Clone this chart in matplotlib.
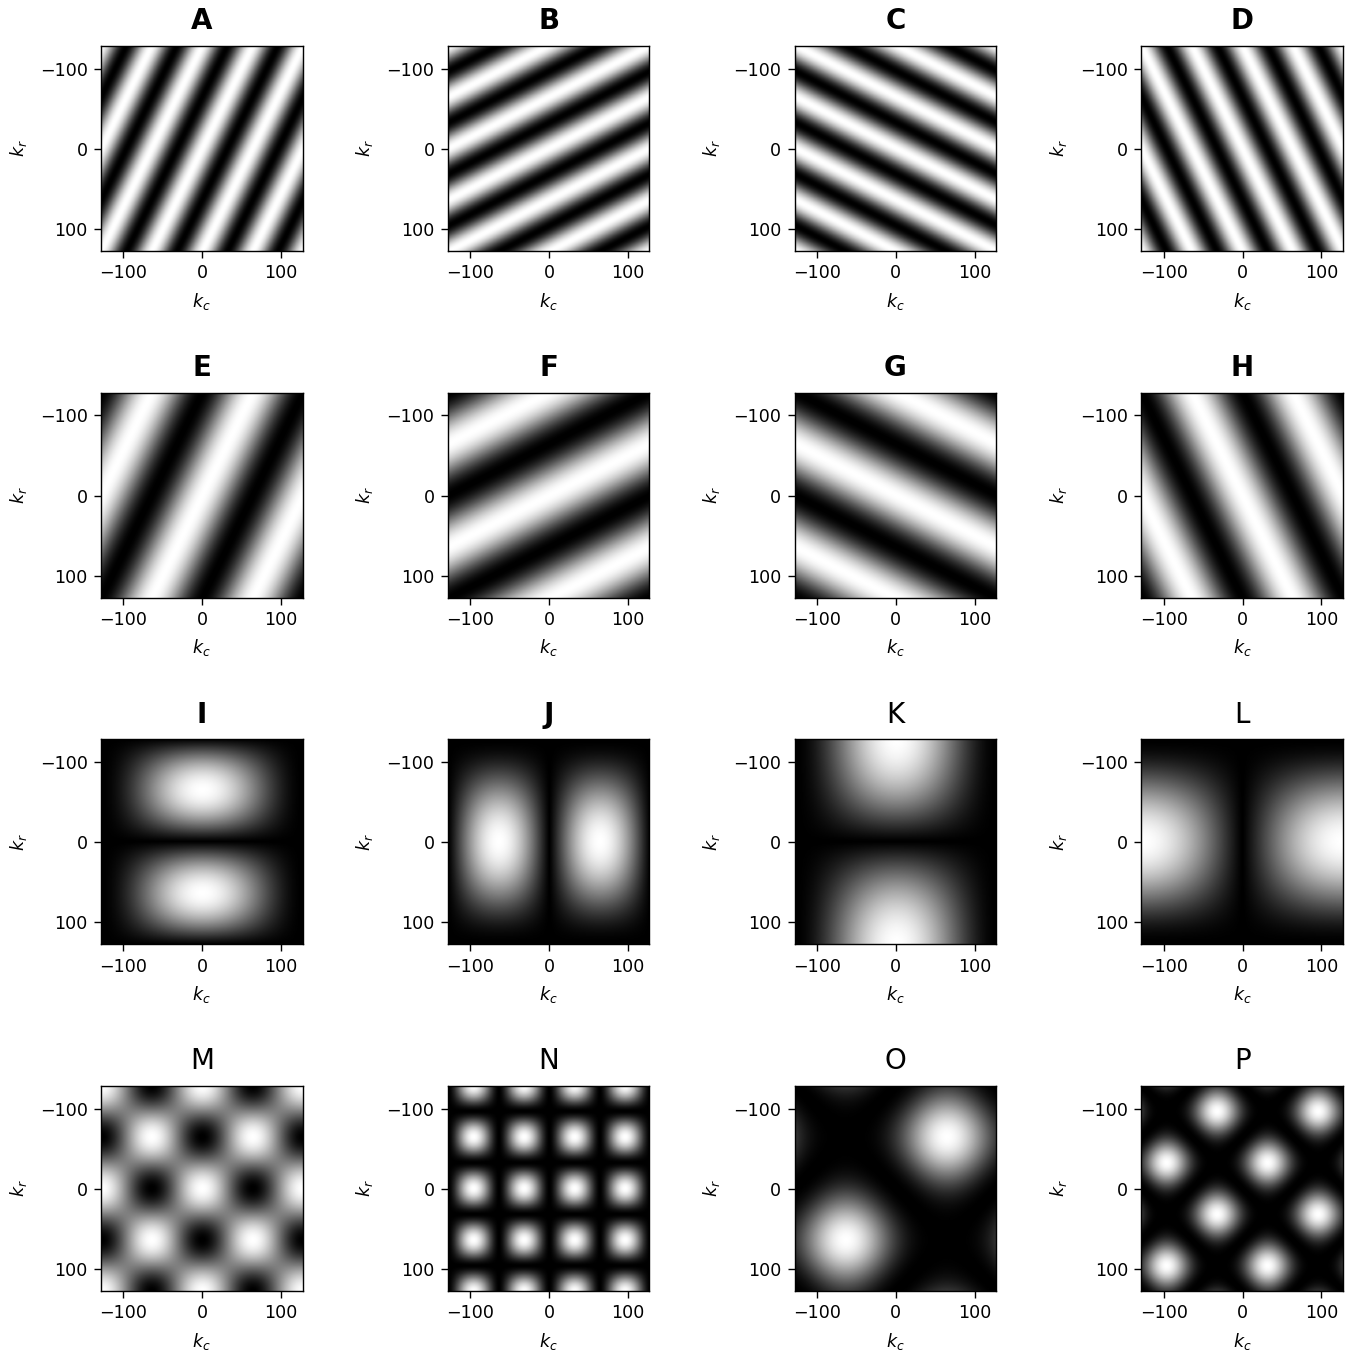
import matplotlib

matplotlib.use("Agg")
import matplotlib.pyplot as plt
import numpy as np

panel_labels = list("ABCDEFGHIJKLMNOP")
tick_values = [-100, 0, 100]

# cycles across the 256 sample grid for the stripe panels A-H
stripe_fc = [4, 2, 2, 4, 2, 1, 1, 2]
stripe_fr = [2, 4, -4, -2, 1, 2, -2, -1]

# lobes panels I-L: (row cycles, col cycles)
lobe_row = [2, 0, 1, 0]
lobe_col = [0, 2, 0, 1]

N = 256
k = np.arange(N) - N // 2
kc, kr = np.meshgrid(k, k)
u = 2 * np.pi * kc / N
v = 2 * np.pi * kr / N


def stripe(fc, fr):
    return np.cos((fc * u + fr * v) / 2) ** 2


def lobe(row, col):
    if row:
        return np.abs(np.sin(row * v / 2)) ** 1.15 * np.abs(np.cos(u / 2)) ** 1.9
    return np.abs(np.sin(col * u / 2)) ** 1.15 * np.abs(np.cos(v / 2)) ** 1.9


images = [stripe(fc, fr) for fc, fr in zip(stripe_fc, stripe_fr)]
images += [lobe(r, c) for r, c in zip(lobe_row, lobe_col)]
images.append((1 + np.cos(2 * u) * np.cos(2 * v)) / 2)
images.append(np.abs(np.sin(2 * u) * np.cos(2 * v)) ** 1.7)
images.append(np.abs((np.sin(u) - np.sin(v)) / 2) ** 2.2)
images.append(np.abs((np.sin(2 * u) - np.sin(2 * v)) / 2) ** 2.2)

fig, axes = plt.subplots(4, 4, figsize=(13.53, 13.52), dpi=100)
fig.subplots_adjust(
    left=101 / 1353,
    right=1343 / 1353,
    top=1 - 46 / 1352,
    bottom=1 - 1291 / 1352,
    wspace=0.72,
    hspace=0.69,
)

for i, (ax, img, label) in enumerate(zip(axes.flat, images, panel_labels)):
    ax.imshow(
        img,
        cmap="gray",
        vmin=0,
        vmax=1,
        aspect="auto",
        extent=(-128.5, 127.5, 127.5, -128.5),
        interpolation="bilinear",
    )
    ax.set_xticks(tick_values)
    ax.set_yticks(tick_values)
    ax.tick_params(labelsize=12.6, length=5, width=1.0, pad=4.5)
    ax.set_xlabel("$k_c$", fontsize=12.6, labelpad=6)
    ax.set_ylabel("$k_r$", fontsize=12.6, labelpad=8)
    ax.set_title(label, fontsize=20, pad=12, fontweight="bold" if i < 10 else "normal")
    for spine in ax.spines.values():
        spine.set_linewidth(1.0)

fig.savefig("out.png", dpi=100)
